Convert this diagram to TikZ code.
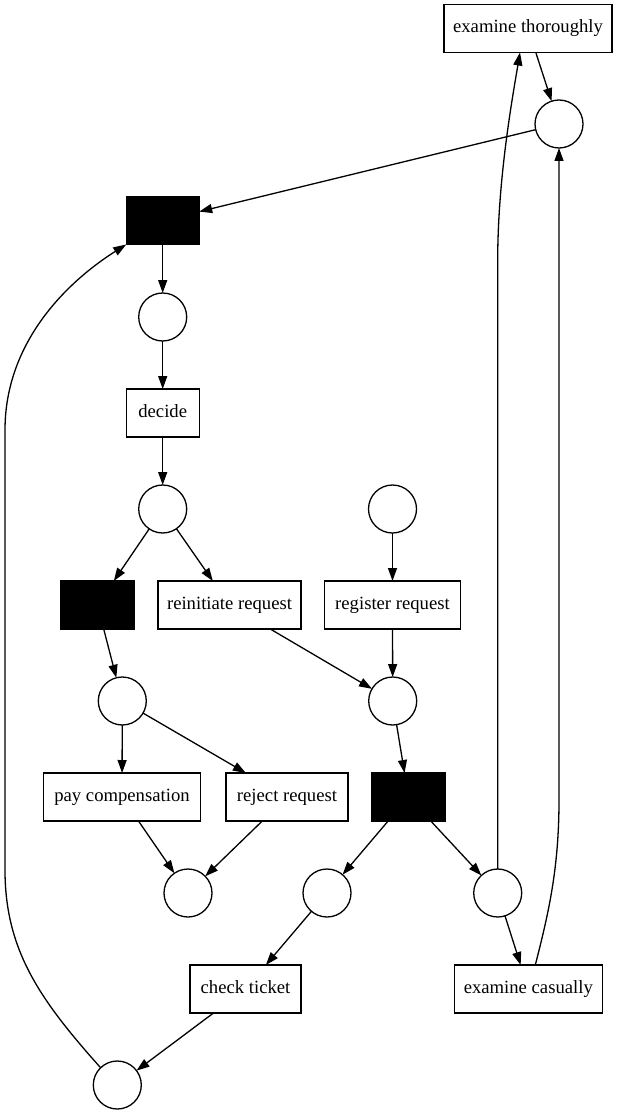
\documentclass[tikz,border=0pt]{standalone}
\usepackage{fontspec}
\setmainfont{Liberation Serif}
\usetikzlibrary{arrows.meta}
\begin{document}
\begin{tikzpicture}[x=1pt,y=-1pt,
  every node/.style={outer sep=0pt, inner sep=0pt, line width=1.3pt},
  trans/.style={draw, rectangle, minimum height=48pt, text height=12.5pt, text depth=4.5pt,
    font=\fontsize{18.67}{22}\selectfont},
  silent/.style={draw, fill=black, rectangle, minimum width=73pt, minimum height=48pt},
  place/.style={draw, circle, minimum size=48pt},
  arc/.style={line width=1.3pt, -{Triangle[length=13pt,width=9pt]}},
]
\useasboundingbox (0,0) rectangle (617,1115);

% transitions
\node[trans, minimum width=168pt] (et) at (528,28.5) {examine thoroughly};
\node[silent] (t1) at (162.7,220.5) {};
\node[trans, minimum width=73pt] (decide) at (162.7,413) {decide};
\node[silent] (t2) at (97.5,605) {};
\node[trans, minimum width=143pt] (reinit) at (229.5,605) {reinitiate request};
\node[trans, minimum width=136pt] (register) at (392.5,605) {register request};
\node[trans, minimum width=157pt] (pay) at (122,797) {pay compensation};
\node[trans, minimum width=122pt] (reject) at (287,797) {reject request};
\node[silent] (t3) at (408.5,797) {};
\node[trans, minimum width=111pt] (check) at (245.5,989) {check ticket};
\node[trans, minimum width=148pt] (ec) at (528.3,989) {examine casually};

% places
\node[place] (p1) at (559,124) {};
\node[place] (p2) at (162.7,317) {};
\node[place] (p3) at (162.7,509) {};
\node[place] (p4) at (392.5,509) {};
\node[place] (p5) at (392.7,701) {};
\node[place] (p6) at (122.3,701) {};
\node[place] (p7) at (188,893) {};
\node[place] (p8) at (327,893) {};
\node[place] (p9) at (497.7,893) {};
\node[place] (p10) at (117.3,1085) {};

% straight arcs
\draw[arc] (et) -- (p1);
\draw[arc] (p1) -- (t1);
\draw[arc] (t1) -- (p2);
\draw[arc] (p2) -- (decide);
\draw[arc] (decide) -- (p3);
\draw[arc] (p3) -- (t2);
\draw[arc] (p3) -- (reinit);
\draw[arc] (p4) -- (register);
\draw[arc] (reinit) -- (p5);
\draw[arc] (register) -- (p5);
\draw[arc] (t2) -- (p6);
\draw[arc] (p6) -- (pay);
\draw[arc] (p6) -- (reject);
\draw[arc] (pay) -- (p7);
\draw[arc] (reject) -- (p7);
\draw[arc] (p5) -- (t3);
\draw[arc] (t3) -- (p8);
\draw[arc] (t3) -- (p9);
\draw[arc] (p8) -- (check);
\draw[arc] (check) -- (p10);
\draw[arc] (p9) -- (ec);

% long loop-back arcs
\draw[arc] (p9.north) -- (497.7,260) .. controls (497.7,180) and (512,100) .. ([xshift=-8pt]et.south);
\draw[arc] ([xshift=7pt]ec.north) .. controls (548,915) and (559,870) .. (559,800) -- (p1.south);
\draw[arc] (p10.134) .. controls (40,1000) and (5,950) .. (5,870) -- (5,430)
  .. controls (5,340) and (70,280) .. (t1.south west);
\end{tikzpicture}
\end{document}
